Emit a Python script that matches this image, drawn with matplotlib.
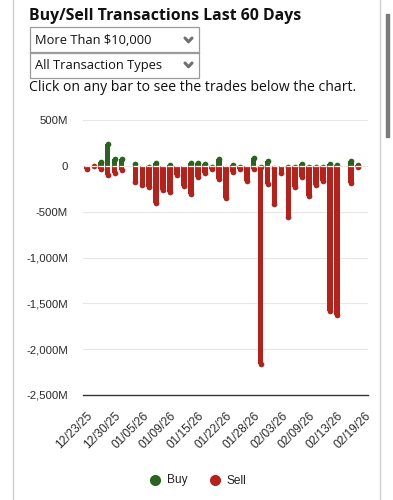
import matplotlib
matplotlib.use("Agg")
import matplotlib.pyplot as plt
import numpy as np
from matplotlib.lines import Line2D
from matplotlib.patches import Rectangle

# daily totals, millions of dollars (0 = no bar)
buy = [0, 0, 75, 265, 100, 100, 0, 45, 0, 20, 65, 0, 35, 0, 0, 65, 58, 55, 15, 110,
       0, 42, 20, 0, 120, 20, 85, 5, 0, 20, 20, 55, 20, 20, 20, 55, 35, 0, 85, 40, 0]
sell = [-60, -30, -60, -135, -105, -70, 0, -210, -235, -260, -430, -290, -315, -130, -245,
        -335, -150, -108, -65, -175, -378, -95, -62, -198, -62, -2190, -225, -445, -105,
        -590, -260, -150, -355, -235, -190, -1610, -1660, 0, -220, -45, 0]
date_labels = ["12/23/25", "12/30/25", "01/05/26", "01/09/26", "01/15/26", "01/22/26",
               "01/28/26", "02/03/26", "02/09/26", "02/13/26", "02/19/26"]
y_ticks = [500, 0, -500, -1000, -1500, -2000, -2500]
y_labels = ["500M", "0", "-500M", "-1,000M", "-1,500M", "-2,000M", "-2,500M"]

GREEN = "#2a6321"
RED = "#b5221b"
W, H = 393, 500

fig = plt.figure(figsize=(W / 100, H / 100), dpi=100)


def fx(x):
    return x / W


def fy(y):
    return 1 - y / H


# page frame and scrollbar
fig.add_artist(Line2D([fx(13), fx(13)], [0, 1], color="#cfcfcf", lw=1))
fig.add_artist(Line2D([fx(379.5), fx(379.5)], [0, 1], color="#cfcfcf", lw=1))
fig.add_artist(Rectangle((fx(385.5), fy(137)), fx(3.5), (137 - 14) / H,
                         color="#7a7a7a", transform=fig.transFigure))

fig.text(fx(29), fy(16), "Buy/Sell Transactions Last 60 Days", family="Open Sans",
         weight="bold", fontsize=11.4, va="center", ha="left", color="#111")

# two dropdowns
for top, label in [(27.5, "More Than $10,000"), (52.5, "All Transaction Types")]:
    fig.add_artist(Rectangle((fx(29.5), fy(top + 25)), fx(169), 25 / H, fill=False,
                             edgecolor="#9a9a9a", lw=0.9, transform=fig.transFigure))
    fig.text(fx(35), fy(top + 12.5), label, family="Open Sans", fontsize=9.3,
             va="center", ha="left", color="#111")
    cx, cy = 188.5, top + 12.5
    fig.add_artist(Line2D([fx(cx - 3.5), fx(cx), fx(cx + 3.5)],
                          [fy(cy - 2), fy(cy + 1.8), fy(cy - 2)],
                          color="#707070", lw=2.2, solid_capstyle="round",
                          solid_joinstyle="round"))

fig.text(fx(29), fy(88), "Click on any bar to see the trades below the chart.",
         family="Open Sans", fontsize=10.1, va="center", ha="left", color="#111")

# chart
ax = fig.add_axes([fx(83.3), fy(395), fx(368.3 - 83.3), (395 - 120) / H])
n = len(buy)
x = np.arange(n)
ax.set_xlim(-0.5, n - 0.5)
ax.set_ylim(-2500, 500)
for s in ax.spines.values():
    s.set_visible(False)

for t in y_ticks[:-1]:
    ax.axhline(t, color="#e6e6e6", lw=0.8, zorder=0)
ax.axhline(-2500, color="#333333", lw=1.0, zorder=1, clip_on=False)

bw = 0.82
r = 30  # rounded-end radius in data units (about 2.8 px)
ms = 4.1
for xi, b, s in zip(x, buy, sell):
    if b > 0:
        ax.bar(xi, max(b - r, 0), width=bw, color=GREEN, zorder=2, lw=0)
        ax.plot(xi, b - r, "o", ms=ms, color=GREEN, mew=0, zorder=2)
    if s < 0:
        ax.bar(xi, s + r, width=bw, color=RED, zorder=3, lw=0)
        ax.plot(xi, s + r, "o", ms=ms, color=RED, mew=0, zorder=3)
    if b > 0 or s < 0:
        ax.hlines(0, xi - bw / 2, xi + bw / 2, color="white", lw=0.9, zorder=4)

ax.set_yticks(y_ticks)
ax.set_yticklabels(y_labels, family="Liberation Sans", fontsize=8.2, color="#2a2a2a")
ax.tick_params(axis="y", length=0, pad=11)

ax.set_xticks(x[::4])
ax.set_xticklabels(date_labels, family="Liberation Sans", fontsize=8.6, color="#2a2a2a",
                   rotation=45, ha="right", va="top", rotation_mode="anchor")
ax.tick_params(axis="x", length=0, pad=11)

# legend
for lx, tx, col, lab in [(154.5, 167, GREEN, "Buy"), (215, 226.5, RED, "Sell")]:
    fig.add_artist(Line2D([fx(lx)], [fy(480)], marker="o", ms=8, color=col, mew=0))
    fig.text(fx(tx), fy(480.5), lab, family="Liberation Sans", fontsize=8.6,
             va="center", ha="left", color="#222")

fig.savefig("out.png", dpi=100, facecolor="white")
